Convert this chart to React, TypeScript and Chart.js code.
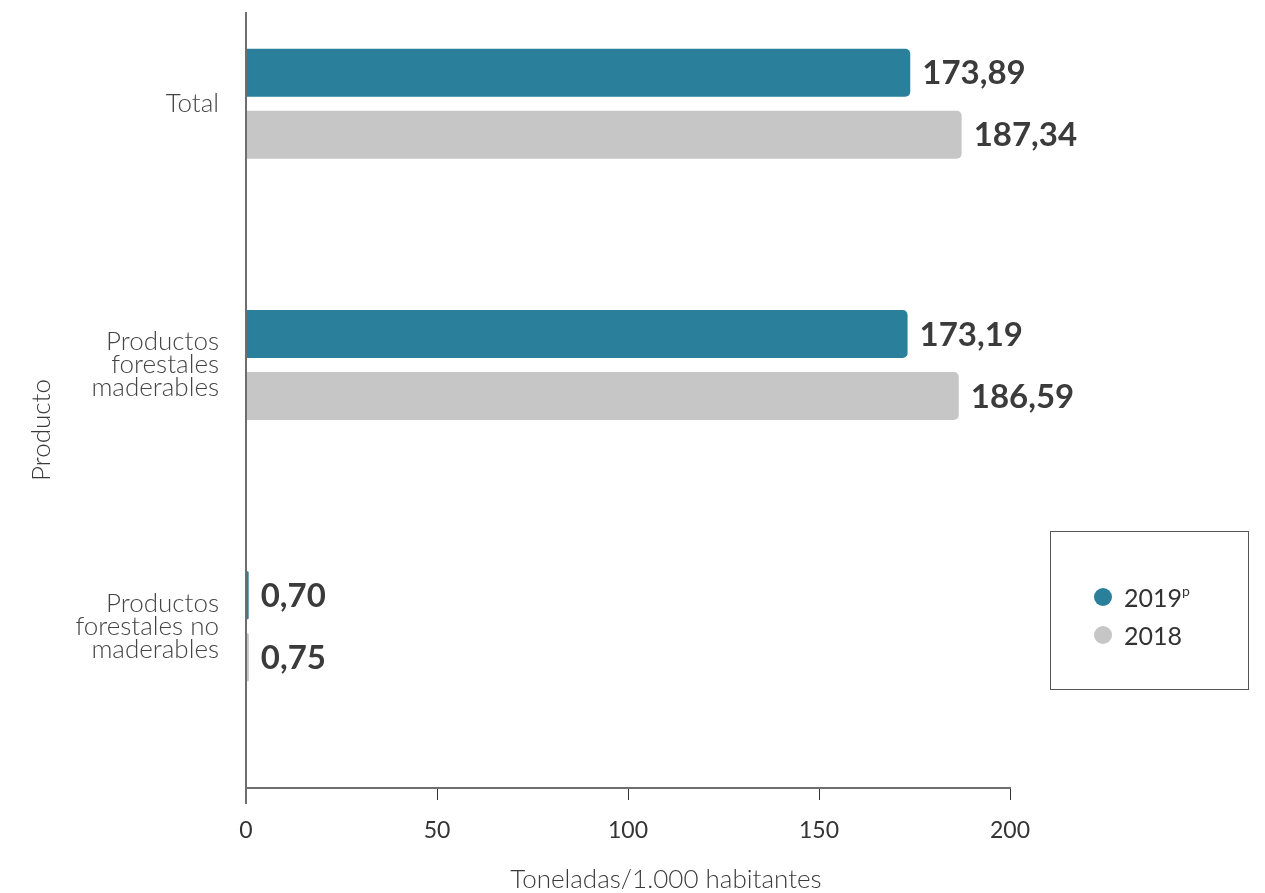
import React, { useEffect, useRef } from 'react';
import { Chart, registerables } from 'chart.js';

Chart.register(...registerables);

// ---- Data ----
const categories: (string | string[])[] = [
  'Total',
  ['Productos', 'forestales', 'maderables'],
  ['Productos', 'forestales no', 'maderables'],
];
const values2019 = [173.89, 173.19, 0.7];
const values2018 = [187.34, 186.59, 0.75];
const spacerValues = [0, 0, 0];
const seriesNames = ['2019', '2018'];
const seriesSup = ['p', ''];
const seriesColors = ['#2a809b', '#c6c6c6'];
const xMin = 0;
const xMax = 200;
const xStep = 50;
const xTitle = 'Toneladas/1.000 habitantes';
const yTitle = 'Producto';

const FONT = 'Lato, "Open Sans", "DejaVu Sans", sans-serif';

const fmt = (v: number) => v.toFixed(2).replace('.', ',');

const decorPlugin = {
  id: 'decor',
  afterDraw(chart: any) {
    const { ctx, chartArea } = chart;
    ctx.save();
    // y axis line
    ctx.strokeStyle = '#6e6e6e';
    ctx.lineWidth = 2;
    ctx.beginPath();
    ctx.moveTo(chartArea.left, 12);
    ctx.lineTo(chartArea.left, chartArea.bottom + 16);
    ctx.stroke();

    // value labels
    ctx.fillStyle = '#3b3b3b';
    ctx.font = `bold 33px ${FONT}`;
    ctx.textBaseline = 'middle';
    ctx.textAlign = 'left';
    [0, 1].forEach((di) => {
      const meta = chart.getDatasetMeta(di);
      const data = chart.data.datasets[di].data as number[];
      meta.data.forEach((bar: any, i: number) => {
        ctx.fillText(fmt(data[i]), bar.x + 12, bar.y + 1);
      });
    });

    // axis titles
    ctx.fillStyle = '#3a3a3a';
    ctx.font = `300 26px ${FONT}`;
    ctx.textAlign = 'center';
    ctx.textBaseline = 'middle';
    ctx.fillText(xTitle, (chartArea.left + chartArea.right) / 2 + 38, 880);
    ctx.save();
    ctx.translate(42, 430);
    ctx.rotate(-Math.PI / 2);
    ctx.font = `300 26px ${FONT}`;
    ctx.fillText(yTitle, 0, 0);
    ctx.restore();
    ctx.restore();
  },
};

export default function App() {
  const canvasRef = useRef<HTMLCanvasElement | null>(null);

  useEffect(() => {
    document.body.style.margin = '0';
    const canvas = canvasRef.current;
    if (!canvas) return;
    const common = {
      borderWidth: 0,
      categoryPercentage: 0.7117,
      barPercentage: 0.774,
    };
    const chart = new Chart(canvas, {
      type: 'bar',
      data: {
        labels: categories as any,
        datasets: [
          {
            label: seriesNames[0],
            data: values2019,
            backgroundColor: seriesColors[0],
            borderRadius: 5,
            ...common,
          },
          {
            label: seriesNames[1],
            data: values2018,
            backgroundColor: seriesColors[1],
            borderRadius: 5,
            ...common,
          },
          {
            label: 'spacer',
            data: spacerValues,
            backgroundColor: 'rgba(0,0,0,0)',
            ...common,
          },
        ],
      },
      options: {
        indexAxis: 'y',
        responsive: false,
        animation: false,
        maintainAspectRatio: false,
        layout: { padding: { top: 4, right: 255, left: 0, bottom: 0 } },
        plugins: {
          legend: { display: false },
          tooltip: { enabled: false },
        },
        scales: {
          x: {
            min: xMin,
            max: xMax,
            afterFit: (scale: any) => {
              scale.height = 105;
              scale.paddingLeft = 0;
              scale.paddingRight = 0;
            },
            ticks: {
              stepSize: xStep,
              color: '#333',
              padding: 17,
              font: { family: FONT, size: 23 },
            },
            grid: {
              drawOnChartArea: false,
              drawTicks: true,
              tickLength: 12,
              color: '#333',
              lineWidth: 1,
            },
            border: { display: true, color: '#6e6e6e', width: 2 },
          },
          y: {
            afterFit: (scale: any) => {
              scale.width = 246;
              scale.paddingTop = 0;
              scale.paddingBottom = 0;
            },
            ticks: {
              color: '#444',
              padding: 27,
              labelOffset: -31,
              font: { family: FONT, size: 26, weight: '300' as any, lineHeight: 0.885 },
            },
            grid: { display: false, drawTicks: false },
            border: { display: false },
          },
        },
      },
      plugins: [decorPlugin],
    });
    return () => chart.destroy();
  }, []);

  return (
    <div style={{ position: 'relative', width: 1265, height: 893 }}>
      <canvas ref={canvasRef} width={1265} height={893} style={{ width: 1265, height: 893, display: 'block' }} />
      <div
        style={{
          position: 'absolute',
          left: 1050,
          top: 531,
          width: 197,
          height: 157,
          border: '1px solid #555',
          fontFamily: FONT,
          fontSize: 25,
          color: '#333',
        }}
      >
        {seriesNames.map((name, i) => (
          <div
            key={name}
            style={{
              position: 'absolute',
              left: 43,
              top: 50 + i * 38,
              height: 30,
              display: 'flex',
              alignItems: 'center',
            }}
          >
            <span
              style={{
                display: 'inline-block',
                width: 18,
                height: 18,
                borderRadius: '50%',
                background: seriesColors[i],
                marginRight: 12,
              }}
            />
            <span>
              {name}
              {seriesSup[i] ? <sup style={{ fontSize: 14, verticalAlign: 'top', lineHeight: '18px' }}>{seriesSup[i]}</sup> : null}
            </span>
          </div>
        ))}
      </div>
    </div>
  );
}
